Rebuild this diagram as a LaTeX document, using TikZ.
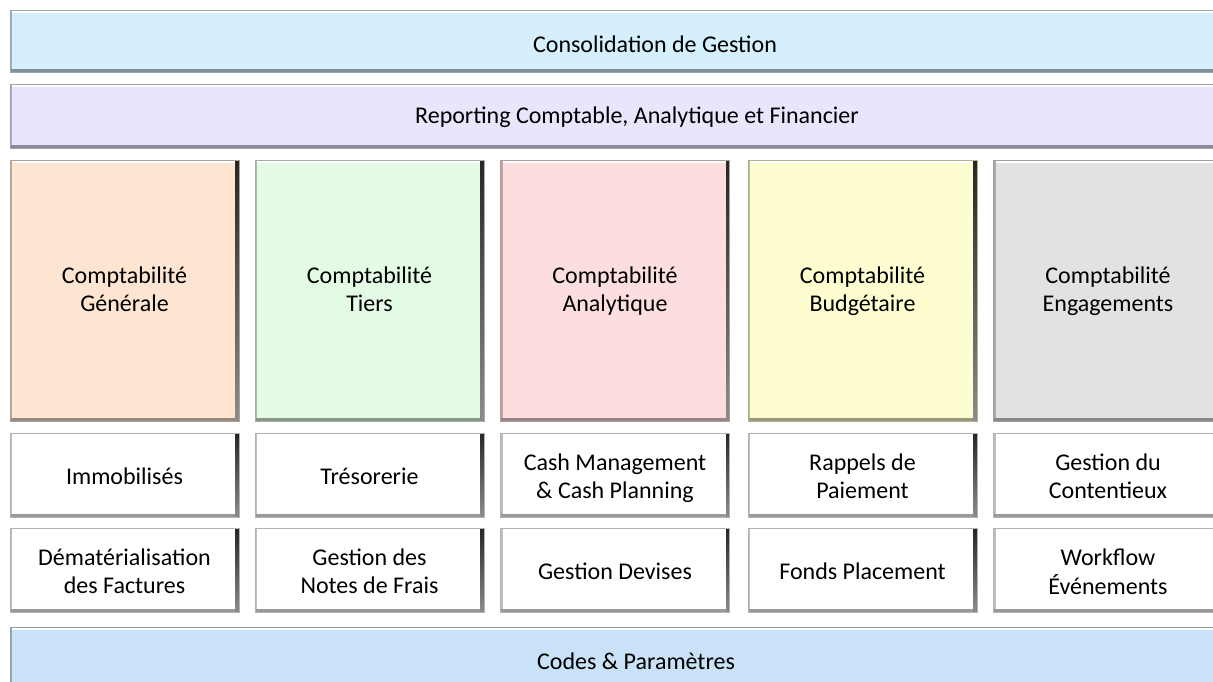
\documentclass[tikz,border=0pt]{standalone}
\usepackage{fontspec}
\setmainfont{Carlito}
\newcommand\lbl{\fontsize{24}{28}\selectfont}
\newcommand\boxtxt[1]{\begin{tabular}{@{}c@{}}#1\end{tabular}}
\definecolor{cBarA}{HTML}{D5F0FC}
\definecolor{cBarB}{HTML}{E8E5FC}
\definecolor{cGen}{HTML}{FDE5D2}
\definecolor{cTiers}{HTML}{E3FBE5}
\definecolor{cAna}{HTML}{FDDEDE}
\definecolor{cBud}{HTML}{FEFDD0}
\definecolor{cEng}{HTML}{E2E2E2}
\definecolor{cBot}{HTML}{C9E2F8}
\tikzset{
  bev/.style={fill=#1, draw=#1!70!black, line width=0.5pt, inner sep=0pt,
    path picture={
      \path (path picture bounding box.north west) coordinate (pnw)
            (path picture bounding box.south east) coordinate (pse);
      \fill[#1!75!black] (pnw) rectangle ([xshift=2pt]pnw |- pse);
      \fill[white] ([xshift=2pt,yshift=-1pt]pnw) rectangle ([xshift=-1pt,yshift=-3pt]pnw -| pse);
      \fill[#1!60!black] ([yshift=3.5pt]pse -| pnw) rectangle (pse);
      \shade[top color=black!85, bottom color=black!45] ([xshift=-3.5pt]pnw -| pse) rectangle (pse);
    }},
  bigbox/.style={bev=#1, minimum width=229pt, minimum height=261pt},
  smallbox/.style={bev=white, minimum width=229pt, minimum height=84pt},
  lab/.style={inner sep=0pt, font=\lbl, text=black}
}
\begin{document}
\begin{tikzpicture}[x=1pt,y=-1pt]
\clip (0,0) rectangle (1213,681);
\fill[white] (0,0) rectangle (1213,681);
% top bars
\node[bev=cBarA, minimum width=1290pt, minimum height=62pt] (cons) at (655,41) {};
\node[lab] (cons-t) at (655,47) {\boxtxt{Consolidation de Gestion}};
\node[bev=cBarB, minimum width=1254pt, minimum height=64pt] (rep) at (637,116) {};
\node[lab] (rep-t) at (637,117.5) {\boxtxt{Reporting Comptable, Analytique et Financier}};
% big columns
\node[bigbox=cGen]   (gen)   at (124.5,290.5) {};
\node[bigbox=cTiers] (tiers) at (369.5,290.5) {};
\node[bigbox=cAna]   (ana)   at (615,290.5)   {};
\node[bigbox=cBud]   (bud)   at (862.5,290.5) {};
\node[bigbox=cEng]   (eng)   at (1108,290.5)  {};
\node[lab] (gen-t)   at ([yshift=-1pt]gen.center)   {\boxtxt{Comptabilité\\Générale}};
\node[lab] (tiers-t) at ([yshift=-1pt]tiers.center) {\boxtxt{Comptabilité\\Tiers}};
\node[lab] (ana-t)   at ([yshift=-1pt]ana.center)   {\boxtxt{Comptabilité\\Analytique}};
\node[lab] (bud-t)   at ([yshift=-1pt]bud.center)   {\boxtxt{Comptabilité\\Budgétaire}};
\node[lab] (eng-t)   at ([yshift=-1pt]eng.center)   {\boxtxt{Comptabilité\\Engagements}};
% row 1
\node[smallbox] (immo)  at (124.5,475) {};
\node[smallbox] (treso) at (369.5,475) {};
\node[smallbox] (cash)  at (615,475) {};
\node[smallbox] (rapp)  at (862.5,475) {};
\node[smallbox] (cont)  at (1108,475) {};
\node[lab] (immo-t)  at ([yshift=-3.8pt]immo.center)  {\boxtxt{Immobilisés}};
\node[lab] (treso-t) at ([yshift=-3.8pt]treso.center) {\boxtxt{Trésorerie}};
\node[lab] (cash-t)  at ([yshift=-3.8pt]cash.center)  {\boxtxt{Cash Management\\\& Cash Planning}};
\node[lab] (rapp-t)  at ([yshift=-3.8pt]rapp.center)  {\boxtxt{Rappels de\\Paiement}};
\node[lab] (cont-t)  at ([yshift=-3.8pt]cont.center)  {\boxtxt{Gestion du\\Contentieux}};
% row 2
\node[smallbox] (demat) at (124.5,570.5) {};
\node[smallbox] (notes) at (369.5,570.5) {};
\node[smallbox] (dev)   at (615,570.5) {};
\node[smallbox] (fonds) at (862.5,570.5) {};
\node[smallbox] (work)  at (1108,570.5) {};
\node[lab] (demat-t) at ([yshift=-3.8pt]demat.center) {\boxtxt{Dématérialisation\\des Factures}};
\node[lab] (notes-t) at ([yshift=-3.8pt]notes.center) {\boxtxt{Gestion des\\Notes de Frais}};
\node[lab] (dev-t)   at ([yshift=-3.8pt]dev.center)   {\boxtxt{Gestion Devises}};
\node[lab] (fonds-t) at ([yshift=-3.8pt]fonds.center) {\boxtxt{Fonds Placement}};
\node[lab] (work-t)  at ([yshift=-3.8pt]work.center)  {\boxtxt{Workflow\\Événements}};
% bottom bar
\node[bev=cBot, minimum width=1252pt, minimum height=66pt] (codes) at (636,660) {};
\node[lab] (codes-t) at (636,664) {\boxtxt{Codes \& Paramètres}};
\end{tikzpicture}
\end{document}
